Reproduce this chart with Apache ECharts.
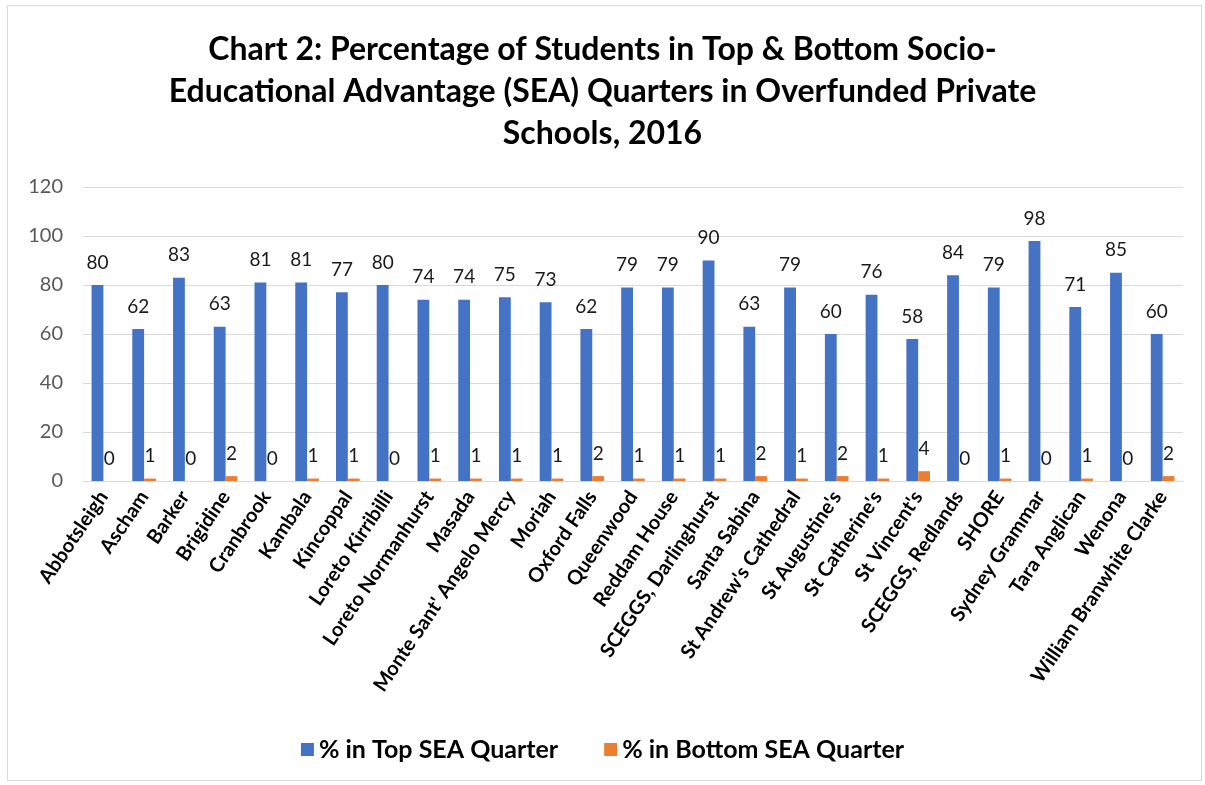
<!DOCTYPE html>
<html>
<head>
<meta charset="utf-8">
<script src="https://cdn.jsdelivr.net/npm/echarts@6/dist/echarts.min.js"></script>
<style>
  html, body { margin: 0; padding: 0; background: #fff; }
  #frame { position: absolute; left: 7px; top: 5px; width: 1195px; height: 776px; border: 1px solid #d9d9d9; box-sizing: border-box; }
  #main { position: absolute; left: 0; top: 0; width: 1205px; height: 785px; }
</style>
</head>
<body>
<div id="frame"></div>
<div id="main"></div>
<script>
// schools on the x axis
const schools = [
  'Abbotsleigh', 'Ascham', 'Barker', 'Brigidine', 'Cranbrook', 'Kambala', 'Kincoppal',
  'Loreto Kirribilli', 'Loreto Normanhurst', 'Masada', 'Monte Sant\' Angelo Mercy', 'Moriah',
  'Oxford Falls', 'Queenwood', 'Reddam House', 'SCEGGS, Darlinghurst', 'Santa Sabina',
  'St Andrew\'s Cathedral', 'St Augustine\'s', 'St Catherine\'s', 'St Vincent\'s',
  'SCEGGS, Redlands', 'SHORE', 'Sydney Grammar', 'Tara Anglican', 'Wenona', 'William Branwhite Clarke'
];

// % in top SEA quarter
const topQuarter = [80, 62, 83, 63, 81, 81, 77, 80, 74, 74, 75, 73, 62, 79, 79, 90, 63, 79, 60, 76, 58, 84, 79, 98, 71, 85, 60];

// % in bottom SEA quarter
const bottomQuarter = [0, 1, 0, 2, 0, 1, 1, 0, 1, 1, 1, 1, 2, 1, 1, 1, 2, 1, 2, 1, 4, 0, 1, 0, 1, 0, 2];

const font = 'Lato, "Liberation Sans", sans-serif';

const chart = echarts.init(document.getElementById('main'));

const valueLabel = {
  show: true,
  position: 'top',
  distance: 13,
  color: '#1a1a1a',
  fontSize: 19,
  fontFamily: font
};

chart.setOption({
  animation: false,
  title: {
    text: 'Chart 2: Percentage of Students in Top & Bottom Socio-\nEducational Advantage (SEA) Quarters in Overfunded Private\nSchools, 2016',
    left: 'center',
    top: 24,
    textStyle: {
      fontFamily: font,
      fontSize: 32,
      fontWeight: 'bold',
      color: '#000',
      lineHeight: 42
    }
  },
  legend: {
    data: ['% in Top SEA Quarter', '% in Bottom SEA Quarter'],
    bottom: 18,
    left: 'center',
    itemWidth: 13,
    itemHeight: 13,
    itemGap: 46,
    icon: 'rect',
    textStyle: {
      fontFamily: font,
      fontSize: 25,
      fontWeight: 'bold',
      color: '#000'
    }
  },
  grid: {
    left: 83,
    right: 22,
    top: 187,
    bottom: 304
  },
  xAxis: {
    type: 'category',
    data: schools,
    axisLine: { lineStyle: { color: '#d9d9d9', width: 1 } },
    axisTick: { show: false },
    axisLabel: {
      rotate: 56,
      interval: 0,
      margin: 12,
      fontFamily: font,
      fontSize: 20,
      fontWeight: 'bold',
      color: '#000'
    }
  },
  yAxis: {
    type: 'value',
    min: 0,
    max: 120,
    interval: 20,
    axisLine: { show: false },
    axisTick: { show: false },
    splitLine: { lineStyle: { color: '#d9d9d9', width: 1 } },
    axisLabel: {
      margin: 20,
      fontFamily: font,
      fontSize: 20,
      color: '#595959'
    }
  },
  series: [
    {
      name: '% in Top SEA Quarter',
      type: 'bar',
      data: topQuarter,
      barWidth: '29%',
      barGap: '0%',
      itemStyle: { color: '#4472c4' },
      label: valueLabel
    },
    {
      name: '% in Bottom SEA Quarter',
      type: 'bar',
      data: bottomQuarter,
      barWidth: '29%',
      itemStyle: { color: '#ed7d31' },
      label: valueLabel
    }
  ]
});
</script>
</body>
</html>
